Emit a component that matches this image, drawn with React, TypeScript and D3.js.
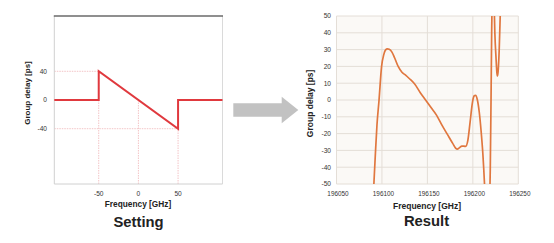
import React from "react";
import * as d3 from "d3";

// ---- Setting chart data ----
const settingFreq = [-106, -50, -50, 50, 50, 106];
const settingDelay = [0, 0, 40, -40, 0, 0];
const settingXTicks = [-50, 0, 50];
const settingYTicks = [40, 0, -40];
// reference (guide) lines: [x, y] points on the curve
const settingGuides: [number, number][] = [
  [-50, 40],
  [0, 0],
  [50, -40],
];

// ---- Result chart data ----
const resultSeg1Freq = [
  196090, 196092.5, 196094.5, 196096.8, 196099.6, 196102, 196104, 196106, 196108,
  196111, 196114, 196118, 196122, 196126, 196130, 196136, 196142, 196148, 196154,
  196160, 196166, 196172, 196178, 196181, 196183, 196185, 196188, 196192, 196194.5,
  196197, 196199.7, 196201.5, 196203, 196205, 196207, 196209, 196211, 196213, 196214,
];
const resultSeg1Delay = [
  -62, -35, -15, 0, 20, 27, 29.8, 30.4, 30.2, 28.5, 25, 19.8, 16.5, 14.8, 12.8, 9.5,
  4.5, 0, -4.5, -9, -15, -20.5, -26, -28.6, -29.2, -28.5, -27.4, -27.6, -24, -13, -1,
  2.5, 2.8, 0, -7, -18, -32, -52, -65,
];
const resultSeg2Freq = [
  196218.3, 196219.2, 196220, 196220.7, 196221.2, 196222.4, 196223.3, 196224.2,
  196225.5, 196226.5, 196227.1, 196227.8, 196229, 196230, 196230.6,
];
const resultSeg2Delay = [
  -62, -40, 0, 40, 60, 80, 60, 40, 25, 16, 14.3, 17, 30, 48, 62,
];
const resultXTicks = [196050, 196100, 196150, 196200, 196250];
const resultYTicks = [50, 40, 30, 20, 10, 0, -10, -20, -30, -40, -50];

const FONT = "'Liberation Sans', Arial, sans-serif";

function SettingChart() {
  const x = d3.scaleLinear().domain([-106, 106]).range([54.3, 222.5]);
  const y = d3.scaleLinear().domain([-117, 117]).range([184, 16]);
  const line = d3
    .line<number>()
    .x((_, i) => x(settingFreq[i]))
    .y((d) => y(d));
  const guideColor = "#f3c4c6";
  return (
    <g>
      <rect x={x(-106)} y={y(117)} width={x(106) - x(-106)} height={y(-117) - y(117)} fill="#fff" />
      {settingGuides.map(([gx, gy], i) => (
        <g key={i}>
          <line x1={x(gx)} x2={x(gx)} y1={y(-117)} y2={y(gy)} stroke={guideColor} strokeWidth={1} strokeDasharray="1.5,1" />
          {gy !== 0 && (
            <line x1={x(-106)} x2={x(gx)} y1={y(gy)} y2={y(gy)} stroke={guideColor} strokeWidth={1} strokeDasharray="1.5,1" />
          )}
        </g>
      ))}
      {/* frame */}
      <line x1={x(-106)} x2={x(-106)} y1={y(117)} y2={y(-117)} stroke="#d0d0d0" strokeWidth={1} />
      <line x1={x(106)} x2={x(106)} y1={y(117)} y2={y(-117)} stroke="#dadada" strokeWidth={1} />
      <line x1={x(-106)} x2={x(106)} y1={y(-117)} y2={y(-117)} stroke="#d0d0d0" strokeWidth={1} />
      <line x1={x(-106) - 0.5} x2={x(106) + 0.5} y1={y(117)} y2={y(117)} stroke="#6a6a6a" strokeWidth={1.4} />
      <path d={line(settingDelay) || ""} fill="none" stroke="#e0393e" strokeWidth={2} strokeLinejoin="miter" />
      {settingYTicks.map((t) => (
        <text key={t} x={47} y={y(t) + 2.3} fontSize={6.6} textAnchor="end" fill="#333" fontFamily={FONT}>
          {t}
        </text>
      ))}
      {settingXTicks.map((t) => (
        <text key={t} x={x(t)} y={195.5} fontSize={6.6} textAnchor="middle" fill="#333" fontFamily={FONT}>
          {t}
        </text>
      ))}
      <text
        transform={`translate(29.5,${y(0) - 7}) rotate(-90)`}
        fontSize={8}
        fontWeight="bold"
        textAnchor="middle"
        fill="#222"
        fontFamily={FONT}
      >
        Group delay [ps]
      </text>
      <text x={138} y={207.3} fontSize={8.3} fontWeight="bold" textAnchor="middle" fill="#222" fontFamily={FONT}>
        Frequency [GHz]
      </text>
      <text x={138.5} y={227} fontSize={14.8} fontWeight="bold" textAnchor="middle" fill="#222" fontFamily={FONT}>
        Setting
      </text>
    </g>
  );
}

function ResultChart() {
  const x = d3.scaleLinear().domain([196050, 196250]).range([336.5, 518.3]);
  const y = d3.scaleLinear().domain([-50, 50]).range([184, 16]);
  const mk = (fs: number[]) =>
    d3
      .line<number>()
      .x((_, i) => x(fs[i]))
      .y((d) => y(d))
      .curve(d3.curveMonotoneX);
  const grid = "#e4ded7";
  return (
    <g>
      <defs>
        <clipPath id="resClip">
          <rect x={x(196050)} y={y(50)} width={x(196250) - x(196050)} height={y(-50) - y(50)} />
        </clipPath>
      </defs>
      <rect x={x(196050)} y={y(50)} width={x(196250) - x(196050)} height={y(-50) - y(50)} fill="#fbf9f6" />
      {resultYTicks.map((t) => (
        <line key={t} x1={x(196050)} x2={x(196250)} y1={y(t)} y2={y(t)} stroke={grid} strokeWidth={1} />
      ))}
      {resultXTicks.map((t) => (
        <line key={t} x1={x(t)} x2={x(t)} y1={y(50)} y2={y(-50)} stroke={grid} strokeWidth={1} />
      ))}
      <g clipPath="url(#resClip)">
        <path d={mk(resultSeg1Freq)(resultSeg1Delay) || ""} fill="none" stroke="#e0773f" strokeWidth={1.7} />
        <path d={mk(resultSeg2Freq)(resultSeg2Delay) || ""} fill="none" stroke="#e0773f" strokeWidth={1.7} />
      </g>
      {resultYTicks.map((t) => (
        <text key={t} x={331} y={y(t) + 2.3} fontSize={6.6} textAnchor="end" fill="#333" fontFamily={FONT}>
          {t}
        </text>
      ))}
      {resultXTicks.map((t) => (
        <text key={t} x={x(t) + 1.5} y={195.8} fontSize={6.4} textAnchor="middle" fill="#333" fontFamily={FONT}>
          {t}
        </text>
      ))}
      <text
        transform={`translate(312.5,${y(-2)}) rotate(-90)`}
        fontSize={8.5}
        fontWeight="bold"
        textAnchor="middle"
        fill="#222"
        fontFamily={FONT}
      >
        Group delay [ps]
      </text>
      <text x={427} y={208.5} fontSize={8.5} fontWeight="bold" textAnchor="middle" fill="#222" fontFamily={FONT}>
        Frequency [GHz]
      </text>
      <text x={426.5} y={226} fontSize={14.8} fontWeight="bold" textAnchor="middle" fill="#222" fontFamily={FONT}>
        Result
      </text>
    </g>
  );
}

function Arrow() {
  const pts: [number, number][] = [
    [233.3, 103.3],
    [281.7, 103.3],
    [281.7, 96.7],
    [298.3, 110],
    [281.7, 123.3],
    [281.7, 116.7],
    [233.3, 116.7],
  ];
  return <polygon points={pts.map((p) => p.join(",")).join(" ")} fill="#c2c2c2" />;
}

export default function App() {
  return (
    <svg
      width={554}
      height={243}
      style={{ position: "absolute", left: 0, top: 0, background: "#fff" }}
    >
      <rect width={554} height={243} fill="#fff" />
      <SettingChart />
      <Arrow />
      <ResultChart />
    </svg>
  );
}
